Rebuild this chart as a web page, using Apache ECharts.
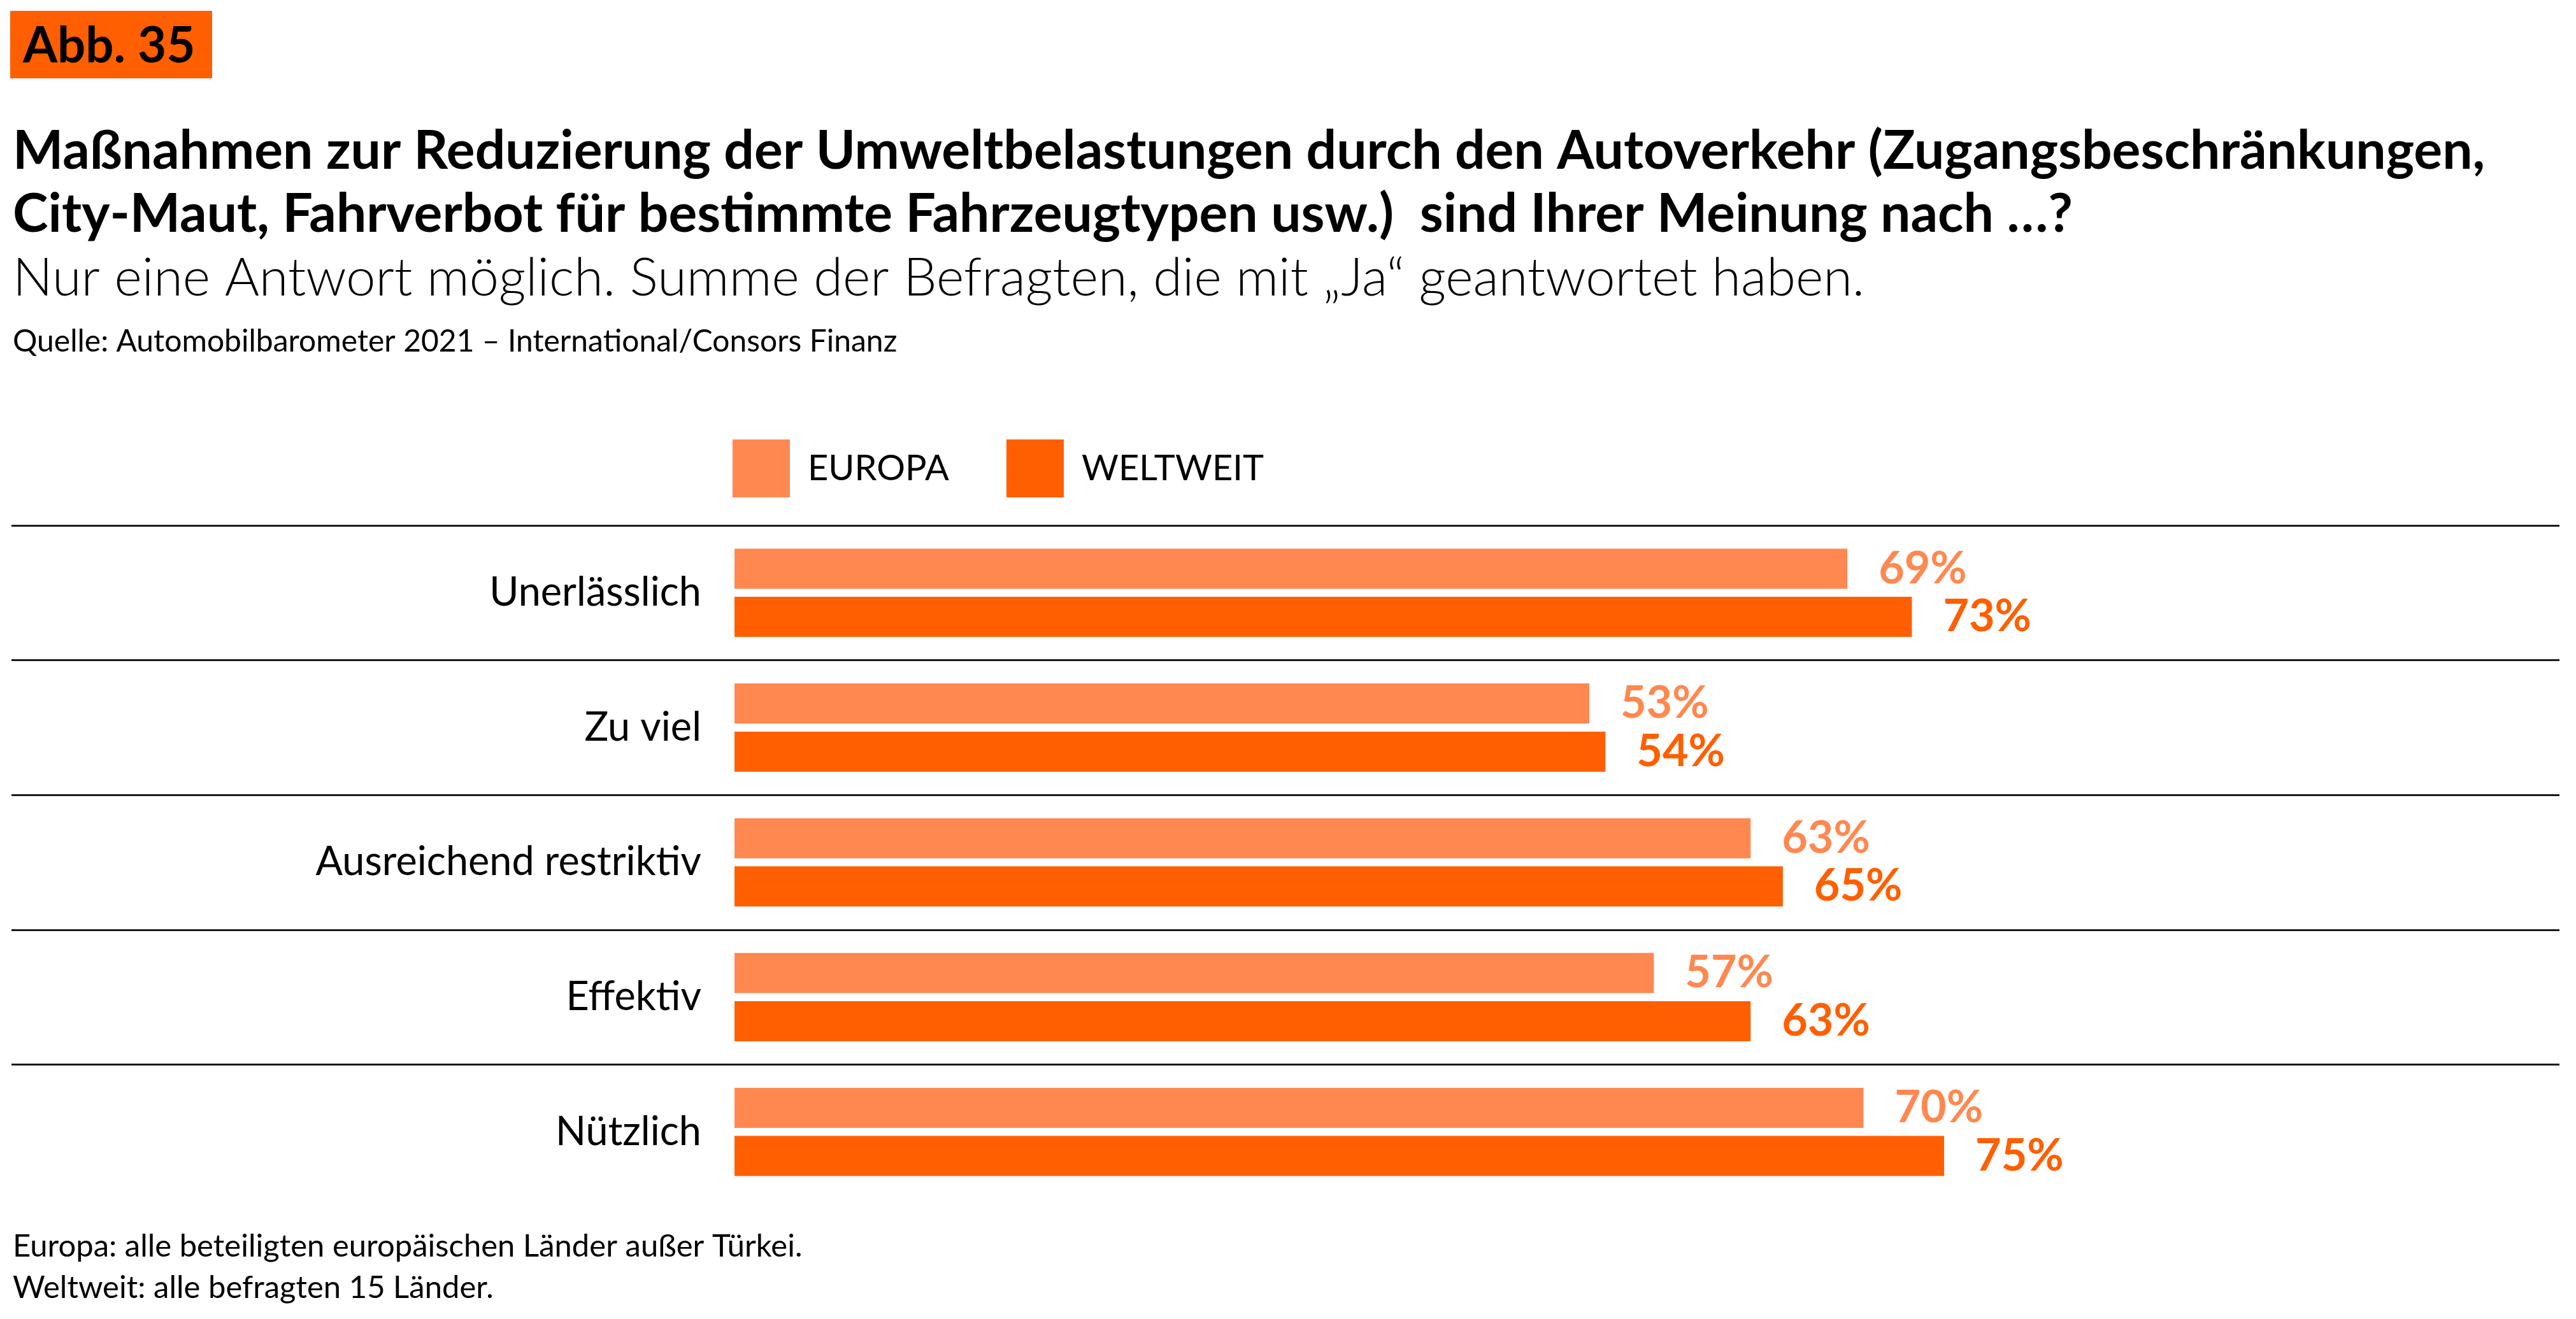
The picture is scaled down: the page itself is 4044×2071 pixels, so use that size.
<!DOCTYPE html>
<html>
<head>
<meta charset="utf-8">
<script src="https://cdn.jsdelivr.net/npm/echarts@6/dist/echarts.min.js"></script>
<style>
html,body{margin:0;padding:0;background:#fff;}
#chart{width:4044px;height:2071px;}
</style>
</head>
<body>
<div id="chart"></div>
<script>
var categories = ['Unerlässlich', 'Zu viel', 'Ausreichend restriktiv', 'Effektiv', 'Nützlich'];
var europa = [69, 53, 63, 57, 70];
var weltweit = [73, 54, 65, 63, 75];
var seriesNames = ['EUROPA', 'WELTWEIT'];

var titleText = 'Maßnahmen zur Reduzierung der Umweltbelastungen durch den Autoverkehr (Zugangsbeschränkungen,\nCity-Maut, Fahrverbot für bestimmte Fahrzeugtypen usw.)  sind Ihrer Meinung nach …?';
var subtitleText = 'Nur eine Antwort möglich. Summe der Befragten, die mit „Ja“ geantwortet haben.';
var sourceText = 'Quelle: Automobilbarometer 2021 – International/Consors Finanz';
var footerText = 'Europa: alle beteiligten europäischen Länder außer Türkei.\nWeltweit: alle befragten 15 Länder.';
var badgeText = 'Abb. 35';

var C_EU = '#FF8850';
var C_WW = '#FF5F00';
var FONT = 'Lato';

var chart = echarts.init(document.getElementById('chart'), null, {renderer: 'canvas'});

var option = {
  backgroundColor: '#ffffff',
  animation: false,
  graphic: [
    {type: 'rect', shape: {x: 16, y: 17, width: 317, height: 106}, style: {fill: C_WW}}
  ],
  title: [
    {text: badgeText, left: 36, top: 33, padding: 0, textStyle: {fontFamily: FONT, fontSize: 78, fontWeight: 'bold', color: '#000', lineHeight: 80}},
    {text: titleText, left: 20, top: 188, padding: 0, textStyle: {fontFamily: FONT, fontSize: 84, fontWeight: 'bold', color: '#000', lineHeight: 99}},
    {text: subtitleText, left: 20, top: 396, padding: 0, textStyle: {fontFamily: FONT, fontSize: 83, fontWeight: 300, color: '#000', lineHeight: 83}},
    {text: sourceText, left: 20, top: 513, padding: 0, textStyle: {fontFamily: FONT, fontSize: 48, fontWeight: 'normal', color: '#000', lineHeight: 48}},
    {text: footerText, left: 20, top: 1925, padding: 0, textStyle: {fontFamily: FONT, fontSize: 49, fontWeight: 'normal', color: '#000', lineHeight: 65}}
  ],
  legend: [
    {data: [seriesNames[0]], left: 1150, top: 690, padding: 0, itemWidth: 90, itemHeight: 91, icon: 'rect', selectedMode: false,
     textStyle: {fontFamily: FONT, fontSize: 56, color: '#000', padding: [0, 0, 0, 23]}},
    {data: [seriesNames[1]], left: 1580, top: 690, padding: 0, itemWidth: 90, itemHeight: 91, icon: 'rect', selectedMode: false,
     textStyle: {fontFamily: FONT, fontSize: 56, color: '#000', padding: [0, 0, 0, 23]}}
  ],
  grid: {left: 18, right: 26, top: 825, height: 1058, containLabel: false, outerBoundsMode: 'none'},
  xAxis: {
    type: 'value', min: -44.83, max: 113.15, show: false
  },
  yAxis: {
    type: 'category', data: categories, inverse: true,
    axisLine: {show: false}, axisTick: {show: false},
    axisLabel: {margin: -1083, align: 'right', fontFamily: FONT, fontSize: 63, color: '#000'},
    splitLine: {show: true, showMinLine: true, showMaxLine: false, lineStyle: {color: '#1a1a1a', width: 3}}
  },
  series: [
    {name: seriesNames[0], type: 'bar', data: europa, barWidth: 63, barGap: '20%',
     itemStyle: {color: C_EU},
     label: {show: true, position: 'right', distance: 49, formatter: '{c}%', fontFamily: FONT, fontSize: 70, fontWeight: 'bold', color: C_EU}},
    {name: seriesNames[1], type: 'bar', data: weltweit, barWidth: 63, barGap: '20%',
     itemStyle: {color: C_WW},
     label: {show: true, position: 'right', distance: 49, formatter: '{c}%', fontFamily: FONT, fontSize: 70, fontWeight: 'bold', color: C_WW}}
  ]
};
chart.setOption(option);
</script>
</body>
</html>
